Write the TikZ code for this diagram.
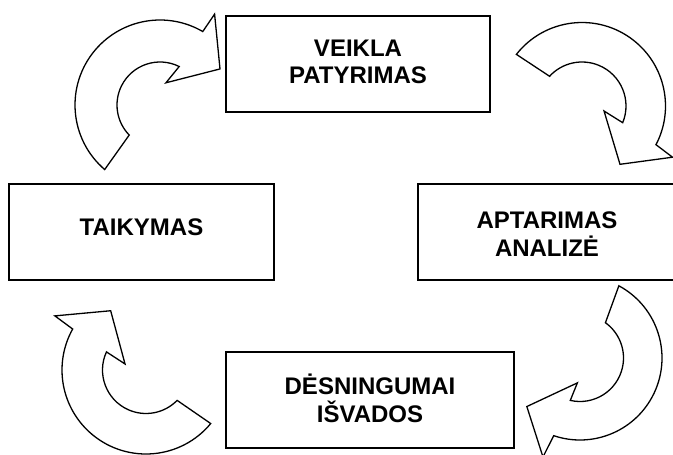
\documentclass[tikz,border=0pt]{standalone}
\usepackage{fontspec}
\setmainfont{Liberation Sans}
\begin{document}
\begin{tikzpicture}[x=1pt,y=-1pt,
  box/.style={draw=black, line width=1.4pt, rectangle, inner sep=0pt},
  lbl/.style={align=center, inner sep=0pt, font=\fontsize{24}{27.5}\selectfont\bfseries},
  carrow/.style={draw=black, fill=white, line width=1.3pt, line join=miter}]
\useasboundingbox (0,0) rectangle (673,455);
\clip (0,0) rectangle (673,455);
% boxes
\node[box, minimum width=264pt, minimum height=96pt] (veikla) at (358,64) {};
\node[box, minimum width=266pt, minimum height=96pt] (aptarimas) at (551,232) {};
\node[box, minimum width=265pt, minimum height=96pt] (taikymas) at (141.5,232) {};
\node[box, minimum width=288pt, minimum height=96pt] (desningumai) at (370,400) {};
% labels
\node[lbl] (veiklaT) at (358,62) {VEIKLA\\PATYRIMAS};
\node[lbl] (aptarimasT) at (547,234) {APTARIMAS\\ANALIZĖ};
\node[lbl] (taikymasT) at (141.5,227) {TAIKYMAS};
\node[lbl] (desningumaiT) at (370,398.5) {DĖSNINGUMAI\\IŠVADOS};
% curved arrows
\coordinate (c1) at (160,105);
\coordinate (c2) at (582,106);
\coordinate (c3) at (580,358);
\coordinate (c4) at (146,370);
\draw[carrow, shift={(c1)}] (130.6:85) arc[start angle=130.6, end angle=300.2, radius=85]
  -- (301:106) -- (329:70) -- (285:23) -- (296.5:43)
  arc[start angle=296.5, end angle=135.7, radius=43] -- cycle;
\draw[carrow, shift={(c2)}] (218.2:83.5) arc[start angle=218.2, end angle=387.6, radius=83.5]
  -- (389.5:104) -- (416.9:69.6) -- (372.8:22.6) -- (382.3:44)
  arc[start angle=382.3, end angle=222.5, radius=44] -- cycle;
\draw[carrow, shift={(c3)}] (-61.7:82) arc[start angle=-61.7, end angle=108.7, radius=82]
  -- (110.5:105.7) -- (137.6:72) -- (96:25) -- (102.9:43.5)
  arc[start angle=102.9, end angle=-54.2, radius=43.5] -- cycle;
\draw[carrow, shift={(c4)}] (39.6:84) arc[start angle=39.6, end angle=209.2, radius=84]
  -- (210.7:106) -- (239.2:69) -- (196:21.8) -- (204.6:43.5)
  arc[start angle=204.6, end angle=44.3, radius=43.5] -- cycle;
\end{tikzpicture}
\end{document}
